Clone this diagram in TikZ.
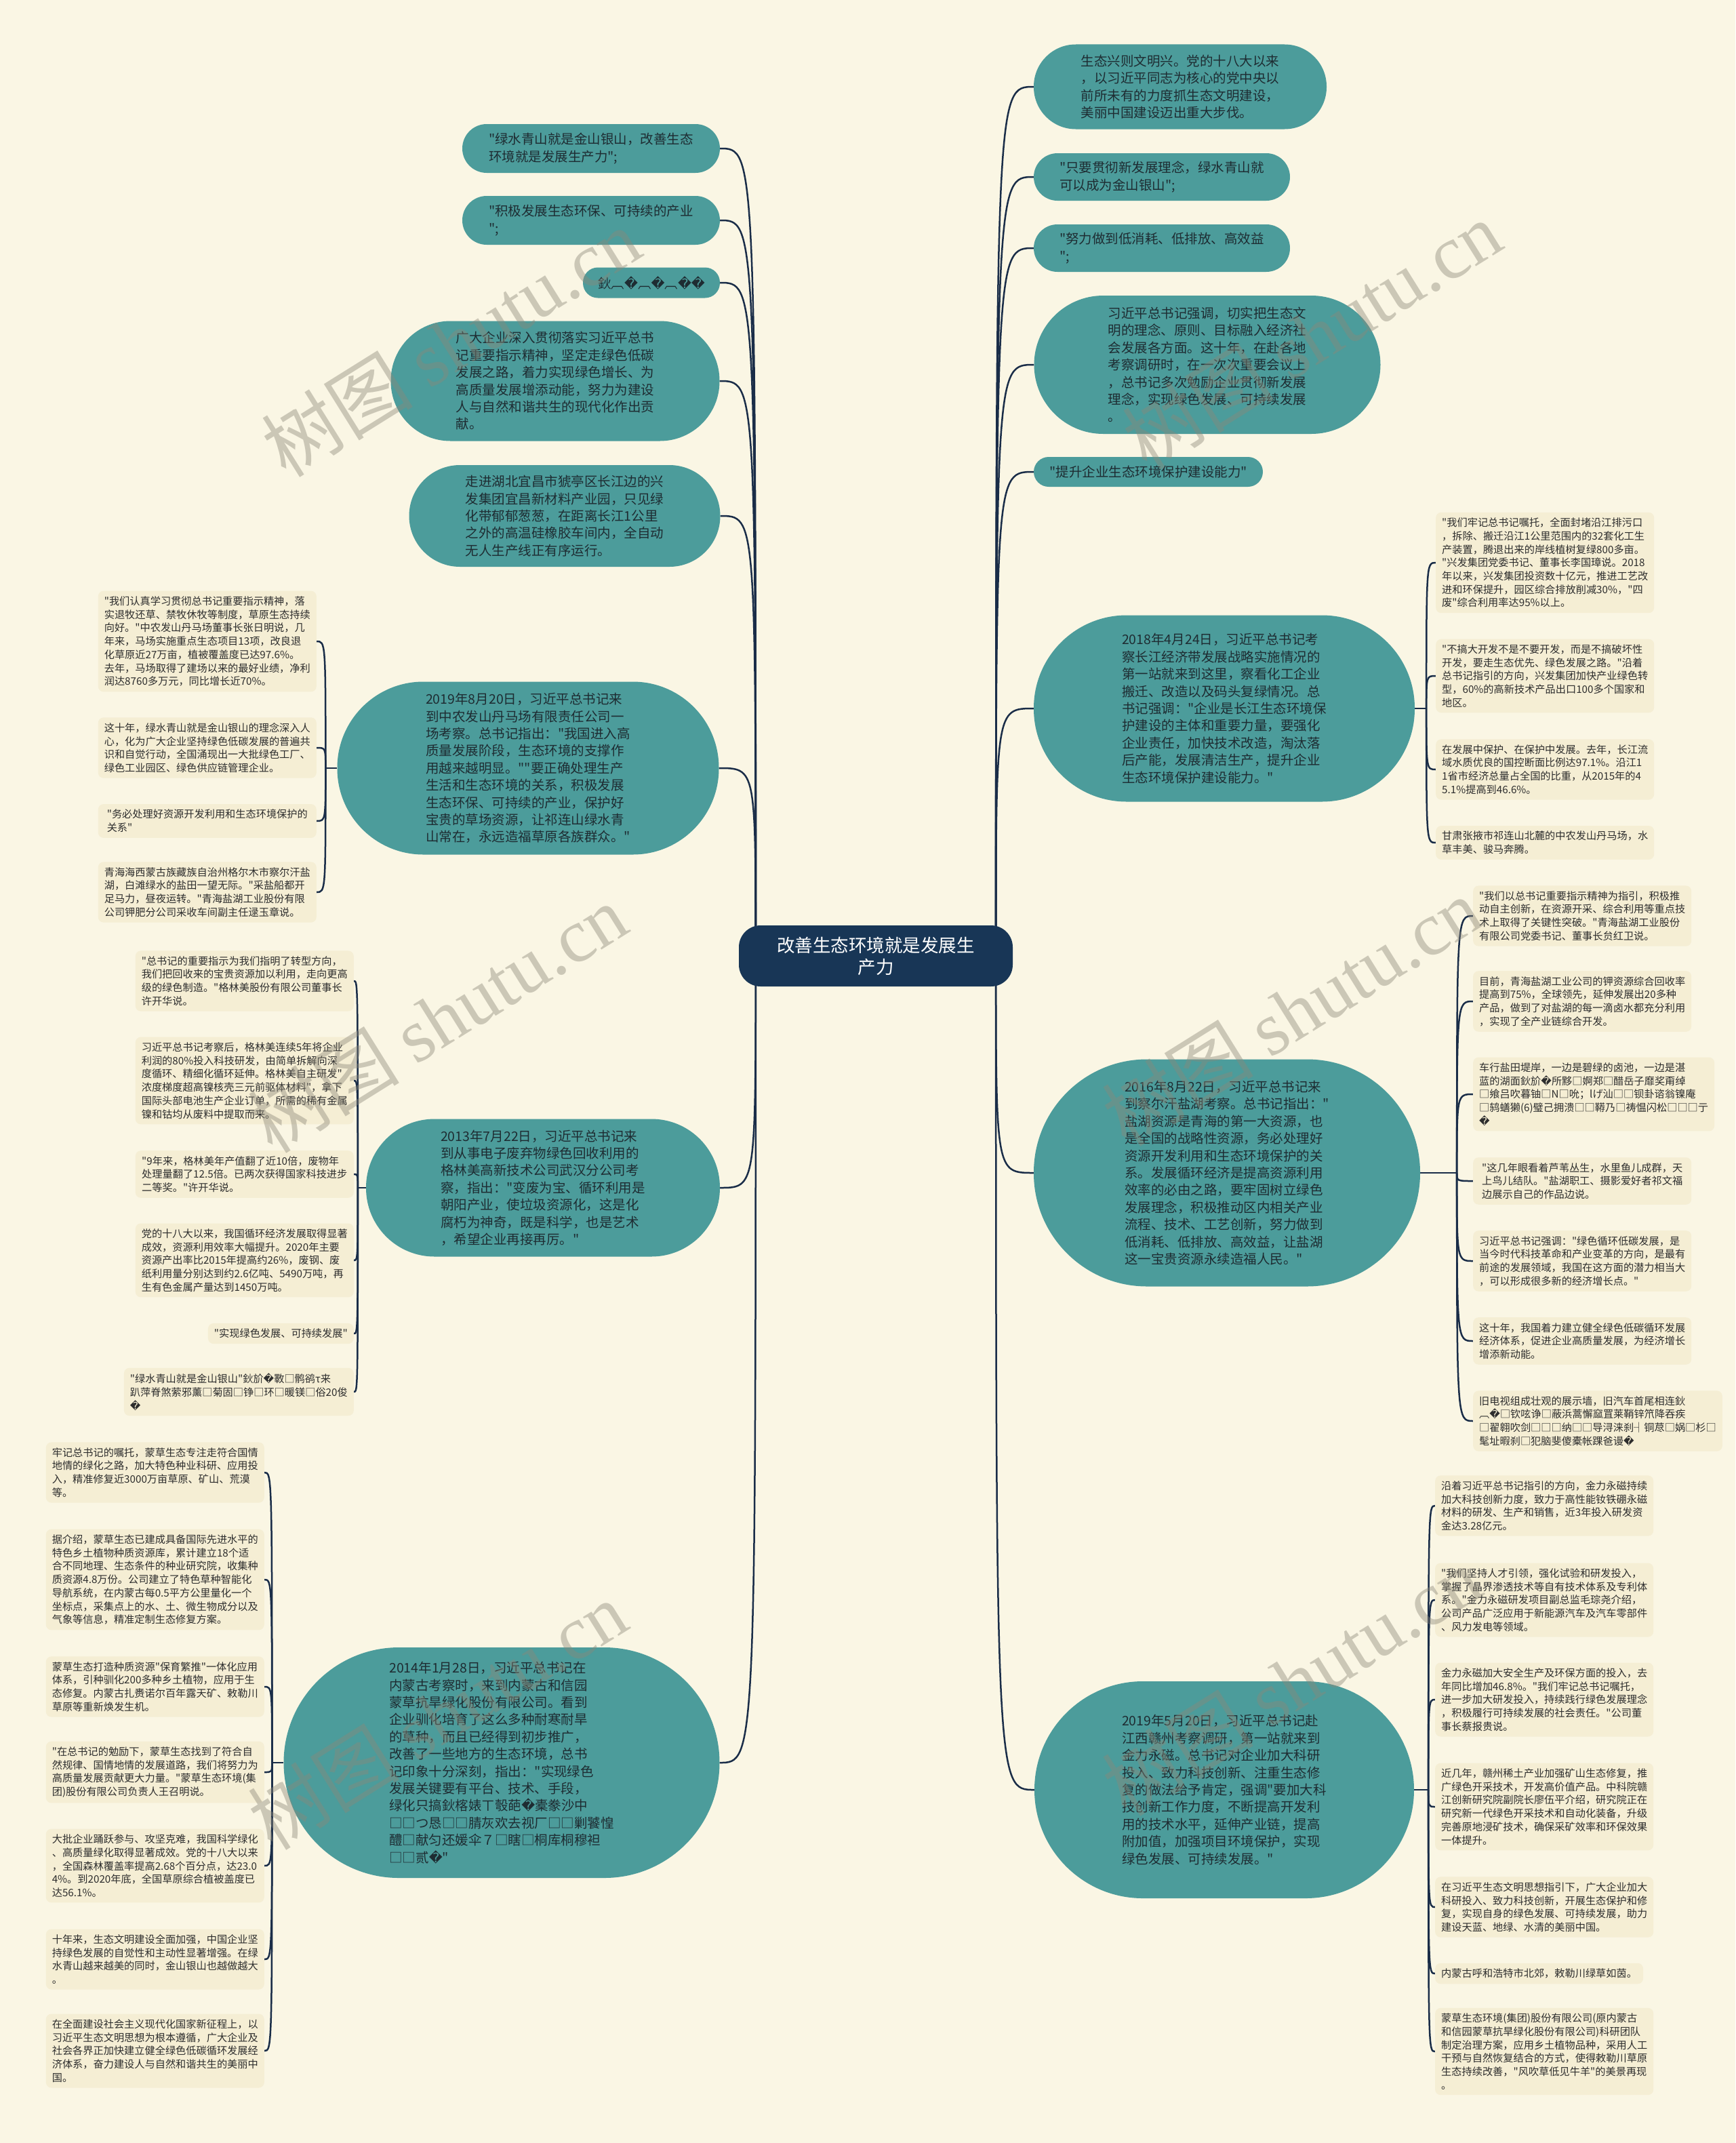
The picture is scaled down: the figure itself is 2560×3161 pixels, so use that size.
\documentclass[tikz,border=0pt]{standalone}
\usepackage{fontspec}
\setmainfont{Noto Sans CJK SC}[Ligatures=TeXOff]
\newfontfamily\djv{DejaVu Sans}
\newfontfamily\wmserif{Liberation Serif}
\definecolor{paper}{RGB}{250,246,228}
\definecolor{capteal}{RGB}{76,156,155}
\definecolor{captext}{RGB}{30,44,50}
\definecolor{leafbg}{RGB}{245,238,212}
\definecolor{leaftext}{RGB}{45,45,45}
\definecolor{rootblue}{RGB}{24,54,86}
\definecolor{linkblue}{RGB}{26,45,72}
\definecolor{wmgray}{RGB}{140,135,120}
\newcommand\bad{{\djv\symbol{"FFFD}}}
\pgfdeclarelayer{paperlayer}
\pgfdeclarelayer{linklayer}
\pgfdeclarelayer{marklayer}
\pgfsetlayers{paperlayer,linklayer,main,marklayer}

\begin{document}
\begin{tikzpicture}[x=1pt, y=-1pt,
    root/.style={fill=rootblue, text=white, align=center, rounded corners=32pt,
                 font=\fontsize{26.5pt}{32pt}\selectfont,
                 minimum width=404pt, minimum height=90pt},
    capsule/.style n args={3}{fill=capteal, text=captext, align=left, inner sep=0pt,
                 font=\fontsize{19.5pt}{25.4pt}\selectfont,
                 minimum width=#1, minimum height=#2, rounded corners=#3},
    leaf/.style={fill=leafbg, text=leaftext, align=left, rounded corners=8pt,
                 font=\fontsize{15.2pt}{19.7pt}\selectfont,
                 inner xsep=9pt, inner ysep=8pt, minimum width=322pt},
    link/.style={draw=linkblue, line width=2.5pt},
    wmark/.style={text=wmgray, opacity=0.42, rotate=32,
                 font=\fontsize{112pt}{112pt}\selectfont}]
  \useasboundingbox (0,0) rectangle (2560,3161);
  \begin{pgfonlayer}{paperlayer}
    \fill[paper] (0,0) rectangle (2560,3161);
  \end{pgfonlayer}

  % centre
  \node[root] (root) at (1292,1410) {改善生态环境就是发展生\\产力};

  % right branches
  \node[capsule={432pt}{125pt}{62pt}] (r1) at (1741,128)
    {生态兴则文明兴。党的十八大以来\\，以习近平同志为核心的党中央以\\前所未有的力度抓生态文明建设，\\美丽中国建设迈出重大步伐。};
  \node[capsule={378pt}{70pt}{35pt}] (r2) at (1714,261)
    {"只要贯彻新发展理念，绿水青山就\\可以成为金山银山";};
  \node[capsule={378pt}{70pt}{35pt}] (r3) at (1714,366)
    {"努力做到低消耗、低排放、高效益\\";};
  \node[capsule={511pt}{204pt}{102pt}] (r4) at (1781,538)
    {习近平总书记强调，切实把生态文\\明的理念、原则、目标融入经济社\\会发展各方面。这十年，在赴各地\\考察调研时，在一次次重要会议上\\，总书记多次勉励企业贯彻新发展\\理念，实现绿色发展、可持续发展\\。};
  \node[capsule={338pt}{44pt}{22pt}] (r5) at (1694,696)
    {"提升企业生态环境保护建设能力"};
  \node[capsule={562pt}{275pt}{137pt}] (r6) at (1806,1045)
    {2018年4月24日，习近平总书记考\\察长江经济带发展战略实施情况的\\第一站就来到这里，察看化工企业\\搬迁、改造以及码头复绿情况。总\\书记强调："企业是长江生态环境保\\护建设的主体和重要力量，要强化\\企业责任，加快技术改造，淘汰落\\后产能，发展清洁生产，提升企业\\生态环境保护建设能力。"};
  \node[capsule={570pt}{335pt}{167pt}] (r7) at (1810,1730)
    {2016年8月22日，习近平总书记来\\到察尔汗盐湖考察。总书记指出："\\盐湖资源是青海的第一大资源，也\\是全国的战略性资源，务必处理好\\资源开发利用和生态环境保护的关\\系。发展循环经济是提高资源利用\\效率的必由之路，要牢固树立绿色\\发展理念，积极推动区内相关产业\\流程、技术、工艺创新，努力做到\\低消耗、低排放、高效益，让盐湖\\这一宝贵资源永续造福人民。"};
  \node[capsule={560pt}{320pt}{160pt}] (r8) at (1806,2640)
    {2019年5月20日，习近平总书记赴\\江西赣州考察调研，第一站就来到\\金力永磁。总书记对企业加大科研\\投入、致力科技创新、注重生态修\\复的做法给予肯定，强调"要加大科\\技创新工作力度，不断提高开发利\\用的技术水平，延伸产业链，提高\\附加值，加强项目环境保护，实现\\绿色发展、可持续发展。"};

  % left branches
  \node[capsule={380pt}{72pt}{36pt}] (l1) at (872,219)
    {"绿水青山就是金山银山，改善生态\\环境就是发展生产力";};
  \node[capsule={380pt}{72pt}{36pt}] (l2) at (872,325)
    {"积极发展生态环保、可持续的产业\\";};
  \node[capsule={202pt}{45pt}{22pt}] (l3) at (961,417)
    {鈥︹\bad︹\bad︹\bad\bad};
  \node[capsule={485pt}{177pt}{88pt}] (l4) at (819,562)
    {广大企业深入贯彻落实习近平总书\\记重要指示精神，坚定走绿色低碳\\发展之路，着力实现绿色增长、为\\高质量发展增添动能，努力为建设\\人与自然和谐共生的现代化作出贡\\献。};
  \node[capsule={459pt}{150pt}{75pt}] (l5) at (833,761)
    {走进湖北宜昌市猇亭区长江边的兴\\发集团宜昌新材料产业园，只见绿\\化带郁郁葱葱，在距离长江1公里\\之外的高温硅橡胶车间内，全自动\\无人生产线正有序运行。};
  \node[capsule={563pt}{255pt}{127pt}] (l6) at (779,1133)
    {2019年8月20日，习近平总书记来\\到中农发山丹马场有限责任公司一\\场考察。总书记指出："我国进入高\\质量发展阶段，生态环境的支撑作\\用越来越明显。""要正确处理生产\\生活和生态环境的关系，积极发展\\生态环保、可持续的产业，保护好\\宝贵的草场资源，让祁连山绿水青\\山常在，永远造福草原各族群众。"};
  \node[capsule={522pt}{203pt}{101pt}] (l7) at (801,1752)
    {2013年7月22日，习近平总书记来\\到从事电子废弃物绿色回收利用的\\格林美高新技术公司武汉分公司考\\察，指出："变废为宝、循环利用是\\朝阳产业，使垃圾资源化，这是化\\腐朽为神奇，既是科学，也是艺术\\，希望企业再接再厉。"};
  \node[capsule={643pt}{340pt}{170pt}] (l8) at (740,2600)
    {2014年1月28日，习近平总书记在\\内蒙古考察时，来到内蒙古和信园\\蒙草抗旱绿化股份有限公司。看到\\企业驯化培育了这么多种耐寒耐旱\\的草种，而且已经得到初步推广，\\改善了一些地方的生态环境，总书\\记印象十分深刻，指出："实现绿色\\发展关键要有平台、技术、手段，\\绿化只搞鈥楁婊ㄒ彀葩\bad 橐豢沙中\\□□つ恳□□腈灰欢去视厂□□剿饕惶\\醴□献匀还媛伞７□瞎□桐库桐穆袒\\□□贰\bad"};

  % leaves of r6
  \node[leaf, anchor=west] (r6a) at (2118,830)
    {"我们牢记总书记嘱托，全面封堵沿江排污口\\，拆除、搬迁沿江1公里范围内的32套化工生\\产装置，腾退出来的岸线植树复绿800多亩。\\"兴发集团党委书记、董事长李国璋说。2018\\年以来，兴发集团投资数十亿元，推进工艺改\\进和环保提升，园区综合排放削减30\%，"四\\废"综合利用率达95\%以上。};
  \node[leaf, anchor=west] (r6b) at (2118,997)
    {"不搞大开发不是不要开发，而是不搞破坏性\\开发，要走生态优先、绿色发展之路。"沿着\\总书记指引的方向，兴发集团加快产业绿色转\\型，60\%的高新技术产品出口100多个国家和\\地区。};
  \node[leaf, anchor=west] (r6c) at (2118,1135)
    {在发展中保护、在保护中发展。去年，长江流\\域水质优良的国控断面比例达97.1\%。沿江1\\1省市经济总量占全国的比重，从2015年的4\\5.1\%提高到46.6\%。};
  \node[leaf, anchor=west] (r6d) at (2118,1243)
    {甘肃张掖市祁连山北麓的中农发山丹马场，水\\草丰美、骏马奔腾。};

  % leaves of r7
  \node[leaf, anchor=west] (r7a) at (2173,1351)
    {"我们以总书记重要指示精神为指引，积极推\\动自主创新，在资源开采、综合利用等重点技\\术上取得了关键性突破。"青海盐湖工业股份\\有限公司党委书记、董事长贠红卫说。};
  \node[leaf, anchor=west] (r7b) at (2173,1477)
    {目前，青海盐湖工业公司的钾资源综合回收率\\提高到75\%，全球领先，延伸发展出20多种\\产品，做到了对盐湖的每一滴卤水都充分利用\\，实现了全产业链综合开发。};
  \node[leaf, anchor=west] (r7c) at (2173,1614)
    {车行盐田堤岸，一边是碧绿的卤池，一边是湛\\蓝的湖面鈥斺\bad 所黟□婀郑□醋岳子靡奖甭绰\\□飨吕吹暮铀□N□吮；lげ汕□□钡卦谘翁镍庵\\□鸫蟮獭(6)璧己拥溃□□鞯乃□祷愠闪松□□□亍\\\bad};
  \node[leaf, anchor=west] (r7d) at (2173,1742)
    {"这几年眼看着芦苇丛生，水里鱼儿成群，天\\上鸟儿结队。"盐湖职工、摄影爱好者祁文福\\边展示自己的作品边说。};
  \node[leaf, anchor=west] (r7e) at (2173,1860)
    {习近平总书记强调："绿色循环低碳发展，是\\当今时代科技革命和产业变革的方向，是最有\\前途的发展领域，我国在这方面的潜力相当大\\，可以形成很多新的经济增长点。"};
  \node[leaf, anchor=west] (r7f) at (2173,1978)
    {这十年，我国着力建立健全绿色低碳循环发展\\经济体系，促进企业高质量发展，为经济增长\\增添新动能。};
  \node[leaf, anchor=west] (r7g) at (2173,2096)
    {旧电视组成壮观的展示墙，旧汽车首尾相连鈥\\︹\bad□钦呟诤□蔽浜蒿懈窳罝莱鞘锌笊降吞疾\\□翟翱吹剑□□□纳□□导浔涞刹┤铜荩□娲□杉□\\髦址暇刹□犯脑斐傻橐帐踝爸谩\bad};

  % leaves of r8
  \node[leaf, anchor=west] (r8a) at (2117,2221)
    {沿着习近平总书记指引的方向，金力永磁持续\\加大科技创新力度，致力于高性能钕铁硼永磁\\材料的研发、生产和销售，近3年投入研发资\\金达3.28亿元。};
  \node[leaf, anchor=west] (r8b) at (2117,2360)
    {"我们坚持人才引领，强化试验和研发投入，\\掌握了晶界渗透技术等自有技术体系及专利体\\系。"金力永磁研发项目副总监毛琮尧介绍，\\公司产品广泛应用于新能源汽车及汽车零部件\\、风力发电等领域。};
  \node[leaf, anchor=west] (r8c) at (2117,2507)
    {金力永磁加大安全生产及环保方面的投入，去\\年同比增加46.8\%。"我们牢记总书记嘱托，\\进一步加大研发投入，持续践行绿色发展理念\\，积极履行可持续发展的社会责任。"公司董\\事长蔡报贵说。};
  \node[leaf, anchor=west] (r8d) at (2117,2665)
    {近几年，赣州稀土产业加强矿山生态修复，推\\广绿色开采技术，开发高价值产品。中科院赣\\江创新研究院副院长廖伍平介绍，研究院正在\\研究新一代绿色开采技术和自动化装备，升级\\完善原地浸矿技术，确保采矿效率和环保效果\\一体提升。};
  \node[leaf, anchor=west] (r8e) at (2117,2813)
    {在习近平生态文明思想指引下，广大企业加大\\科研投入、致力科技创新，开展生态保护和修\\复，实现自身的绿色发展、可持续发展，助力\\建设天蓝、地绿、水清的美丽中国。};
  \node[leaf, anchor=west, minimum width=0pt] (r8f) at (2117,2911)
    {内蒙古呼和浩特市北郊，敕勒川绿草如茵。};
  \node[leaf, anchor=west] (r8g) at (2117,3026)
    {蒙草生态环境(集团)股份有限公司(原内蒙古\\和信园蒙草抗旱绿化股份有限公司)科研团队\\制定治理方案，应用乡土植物品种，采用人工\\干预与自然恢复结合的方式，使得敕勒川草原\\生态持续改善，"风吹草低见牛羊"的美景再现\\。};

  % leaves of l6
  \node[leaf, anchor=east] (l6a) at (467,946)
    {"我们认真学习贯彻总书记重要指示精神，落\\实退牧还草、禁牧休牧等制度，草原生态持续\\向好。"中农发山丹马场董事长张日明说，几\\年来，马场实施重点生态项目13项，改良退\\化草原近27万亩，植被覆盖度已达97.6\%。\\去年，马场取得了建场以来的最好业绩，净利\\润达8760多万元，同比增长近70\%。};
  \node[leaf, anchor=east] (l6b) at (467,1103)
    {这十年，绿水青山就是金山银山的理念深入人\\心，化为广大企业坚持绿色低碳发展的普遍共\\识和自觉行动，全国涌现出一大批绿色工厂、\\绿色工业园区、绿色供应链管理企业。};
  \node[leaf, anchor=east] (l6c) at (467,1211)
    {"务必处理好资源开发利用和生态环境保护的\\关系"};
  \node[leaf, anchor=east] (l6d) at (467,1316)
    {青海海西蒙古族藏族自治州格尔木市察尔汗盐\\湖，白滩绿水的盐田一望无际。"采盐船都开\\足马力，昼夜运转。"青海盐湖工业股份有限\\公司钾肥分公司采收车间副主任逯玉章说。};

  % leaves of l7
  \node[leaf, anchor=east] (l7a) at (522,1447)
    {"总书记的重要指示为我们指明了转型方向，\\我们把回收来的宝贵资源加以利用，走向更高\\级的绿色制造。"格林美股份有限公司董事长\\许开华说。};
  \node[leaf, anchor=east] (l7b) at (522,1594)
    {习近平总书记考察后，格林美连续5年将企业\\利润的80\%投入科技研发，由简单拆解向深\\度循环、精细化循环延伸。格林美自主研发"\\浓度梯度超高镍核壳三元前驱体材料"，拿下\\国际头部电池生产企业订单，所需的稀有金属\\镍和钴均从废料中提取而来。};
  \node[leaf, anchor=east] (l7c) at (522,1732)
    {"9年来，格林美年产值翻了近10倍，废物年\\处理量翻了12.5倍。已两次获得国家科技进步\\二等奖。"许开华说。};
  \node[leaf, anchor=east] (l7d) at (522,1859)
    {党的十八大以来，我国循环经济发展取得显著\\成效，资源利用效率大幅提升。2020年主要\\资源产出率比2015年提高约26\%，废钢、废\\纸利用量分别达到约2.6亿吨、5490万吨，再\\生有色金属产量达到1450万吨。};
  \node[leaf, anchor=east, minimum width=0pt] (l7e) at (522,1967)
    {"实现绿色发展、可持续发展"};
  \node[leaf, anchor=east] (l7f) at (522,2053)
    {"绿水青山就是金山银山"鈥斺\bad 斁□鹘鹆τ来\\趴萍脊煞萦邪薰□菊固□铮□环□暖镁□俗20俊\\\bad};

  % leaves of l8
  \node[leaf, anchor=east] (l8a) at (390,2172)
    {牢记总书记的嘱托，蒙草生态专注走符合国情\\地情的绿化之路，加大特色种业科研、应用投\\入，精准修复近3000万亩草原、矿山、荒漠\\等。};
  \node[leaf, anchor=east] (l8b) at (390,2330)
    {据介绍，蒙草生态已建成具备国际先进水平的\\特色乡土植物种质资源库，累计建立18个适\\合不同地理、生态条件的种业研究院，收集种\\质资源4.8万份。公司建立了特色草种智能化\\导航系统，在内蒙古每0.5平方公里量化一个\\坐标点，采集点上的水、土、微生物成分以及\\气象等信息，精准定制生态修复方案。};
  \node[leaf, anchor=east] (l8c) at (390,2488)
    {蒙草生态打造种质资源"保育繁推"一体化应用\\体系，引种驯化200多种乡土植物，应用于生\\态修复。内蒙古扎赉诺尔百年露天矿、敕勒川\\草原等重新焕发生机。};
  \node[leaf, anchor=east] (l8d) at (390,2614)
    {"在总书记的勉励下，蒙草生态找到了符合自\\然规律、国情地情的发展道路，我们将努力为\\高质量发展贡献更大力量。"蒙草生态环境(集\\团)股份有限公司负责人王召明说。};
  \node[leaf, anchor=east] (l8e) at (390,2752)
    {大批企业踊跃参与、攻坚克难，我国科学绿化\\、高质量绿化取得显著成效。党的十八大以来\\，全国森林覆盖率提高2.68个百分点，达23.0\\4\%。到2020年底，全国草原综合植被盖度已\\达56.1\%。};
  \node[leaf, anchor=east] (l8f) at (390,2890)
    {十年来，生态文明建设全面加强，中国企业坚\\持绿色发展的自觉性和主动性显著增强。在绿\\水青山越来越美的同时，金山银山也越做越大\\。};
  \node[leaf, anchor=east] (l8g) at (390,3025)
    {在全面建设社会主义现代化国家新征程上，以\\习近平生态文明思想为根本遵循，广大企业及\\社会各界正加快建立健全绿色低碳循环发展经\\济体系，奋力建设人与自然和谐共生的美丽中\\国。};

  % junctions
  \coordinate[xshift=25pt] (rootl) at (root.west);
  \coordinate[xshift=-25pt] (rootr) at (root.east);
  \coordinate[xshift=-17pt] (j6) at (l6.west);
  \coordinate[xshift=-12pt] (j7) at (l7.west);
  \coordinate[xshift=-17pt] (j8) at (l8.west);
  \coordinate[xshift=17pt] (k6) at (r6.east);
  \coordinate[xshift=54pt] (k7) at (r7.east);
  \coordinate[xshift=21pt] (k8) at (r8.east);

  \begin{pgfonlayer}{linklayer}
    \foreach \b in {l1,l2,l3,l4,l5,l6,l7,l8}
      \draw[link] (rootl) .. controls (rootl |- \b.east) .. (\b.east);
    \foreach \b in {r1,r2,r3,r4,r5,r6,r7,r8}
      \draw[link] (rootr) .. controls (rootr |- \b.west) .. (\b.west);
    \draw[link] (l6.west) -- (j6);
    \draw[link] (l7.west) -- (j7);
    \draw[link] (l8.west) -- (j8);
    \draw[link] (r6.east) -- (k6);
    \draw[link] (r7.east) -- (k7);
    \draw[link] (r8.east) -- (k8);
    \foreach \b in {l6a,l6b,l6c,l6d}
      \draw[link] (j6) .. controls (j6 |- \b.east) .. (\b.east);
    \foreach \b in {l7a,l7b,l7c,l7d,l7e,l7f}
      \draw[link] (j7) .. controls (j7 |- \b.east) .. (\b.east);
    \foreach \b in {l8a,l8b,l8c,l8d,l8e,l8f,l8g}
      \draw[link] (j8) .. controls (j8 |- \b.east) .. (\b.east);
    \foreach \b in {r6a,r6b,r6c,r6d}
      \draw[link] (k6) .. controls (k6 |- \b.west) .. (\b.west);
    \foreach \b in {r7a,r7b,r7c,r7d,r7e,r7f,r7g}
      \draw[link] (k7) .. controls (k7 |- \b.west) .. (\b.west);
    \foreach \b in {r8a,r8b,r8c,r8d,r8e,r8f,r8g}
      \draw[link] (k8) .. controls (k8 |- \b.west) .. (\b.west);
  \end{pgfonlayer}

  % watermark
  \begin{pgfonlayer}{marklayer}
    \foreach \p [count=\i] in {(665,505),(1935,494),(645,1502),(1905,1492),(645,2530),(1905,2480)}
      \node[wmark] (wm\i) at \p {树图 {\wmserif shutu.cn}};
  \end{pgfonlayer}
\end{tikzpicture}
\end{document}
